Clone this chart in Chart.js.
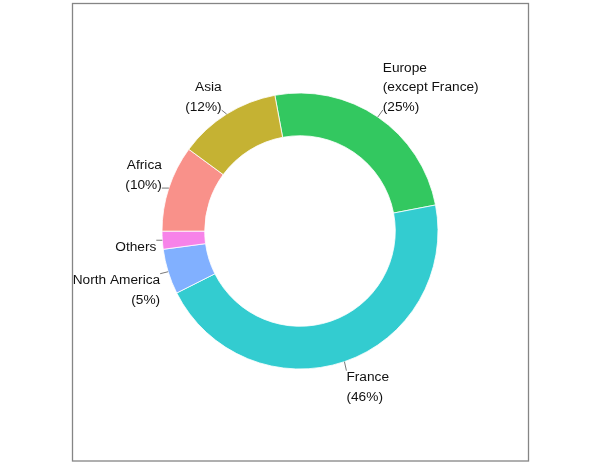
<!DOCTYPE html>
<html>
<head>
<meta charset="utf-8">
<script src="https://cdn.jsdelivr.net/npm/chart.js@4"></script>
<style>
html,body{margin:0;padding:0;background:#fff;}
#wrap{width:600px;height:466px;position:relative;}
</style>
</head>
<body>
<div id="wrap"><canvas id="c" width="600" height="466"></canvas></div>
<script>
// ---- data ----
const categories = ["Europe\n(except France)", "France", "North America", "Others", "Africa", "Asia"];
const shares = [24.9, 45.6, 5.3, 2.1, 10.1, 12.0];
const showPercent = [true, true, true, false, true, true];
const colors = ["#33C860", "#33CCD0", "#81B0FF", "#F783E9", "#F9918A", "#C5B233"];

// ---- label styling (leader end offsets relative to ring point) ----
const labelStyle = [
  {dx: 5, dy: -7, align: "left", anchor: "bottom"},
  {dx: 2, dy: 9, align: "left", anchor: "top"},
  {dx: -8, dy: 2, align: "right", anchor: "top"},
  {dx: -6, dy: 0, align: "right", anchor: "top"},
  {dx: -7, dy: 0, align: "right", anchor: "bottom"},
  {dx: -5, dy: -4, align: "right", anchor: "bottom"}
];

const total = shares.reduce((a, b) => a + b, 0);
const labelTexts = categories.map((c, i) =>
  showPercent[i] ? c + "\n(" + Math.round(shares[i] / total * 100) + "%)" : c);

const framePlugin = {
  id: "frame",
  beforeDraw(chart) {
    const ctx = chart.ctx;
    ctx.save();
    ctx.fillStyle = "#ffffff";
    ctx.fillRect(0, 0, chart.width, chart.height);
    ctx.strokeStyle = "#858585";
    ctx.lineWidth = 1.3;
    ctx.strokeRect(72.5, 3.5, 456, 457.5);
    ctx.restore();
  }
};

const labelPlugin = {
  id: "outerLabels",
  afterDatasetsDraw(chart) {
    const ctx = chart.ctx;
    const meta = chart.getDatasetMeta(0);
    const fontSize = 13.7, lineH = 19.5;
    ctx.save();
    ctx.font = fontSize + "px 'Liberation Sans', Arial, sans-serif";
    ctx.fillStyle = "#111111";
    ctx.textBaseline = "alphabetic";
    meta.data.forEach((arc, i) => {
      const mid = (arc.startAngle + arc.endAngle) / 2;
      const R = arc.outerRadius;
      const px = arc.x + R * Math.cos(mid);
      const py = arc.y + R * Math.sin(mid);
      const st = labelStyle[i];
      const ex = px + st.dx, ey = py + st.dy;
      ctx.strokeStyle = "#555555";
      ctx.lineWidth = 0.8;
      ctx.beginPath();
      ctx.moveTo(px, py);
      ctx.lineTo(ex, ey);
      ctx.stroke();
      const lines = labelTexts[i].split("\n");
      ctx.textAlign = st.align;
      let firstBase;
      if (st.anchor === "bottom") {
        firstBase = ey + 0.5 - (lines.length - 1) * lineH;
      } else {
        firstBase = ey + 10.5;
      }
      lines.forEach((ln, k) => {
        ctx.fillText(ln, ex, firstBase + k * lineH);
      });
    });
    ctx.restore();
  }
};

new Chart(document.getElementById("c"), {
  type: "doughnut",
  data: {
    labels: categories,
    datasets: [{
      data: shares,
      backgroundColor: colors,
      borderColor: "#ffffff",
      borderWidth: 0.8,
      hoverOffset: 0,
      hoverBorderWidth: 0.8,
      offset: 0
    }]
  },
  options: {
    responsive: false,
    animation: false,
    rotation: -10.5,
    radius: 138,
    cutout: 95,
    layout: {padding: {top: 93, bottom: 97, left: 100, right: 100}},
    plugins: {
      legend: {display: false},
      tooltip: {enabled: false}
    },
    events: []
  },
  plugins: [framePlugin, labelPlugin]
});
</script>
</body>
</html>
